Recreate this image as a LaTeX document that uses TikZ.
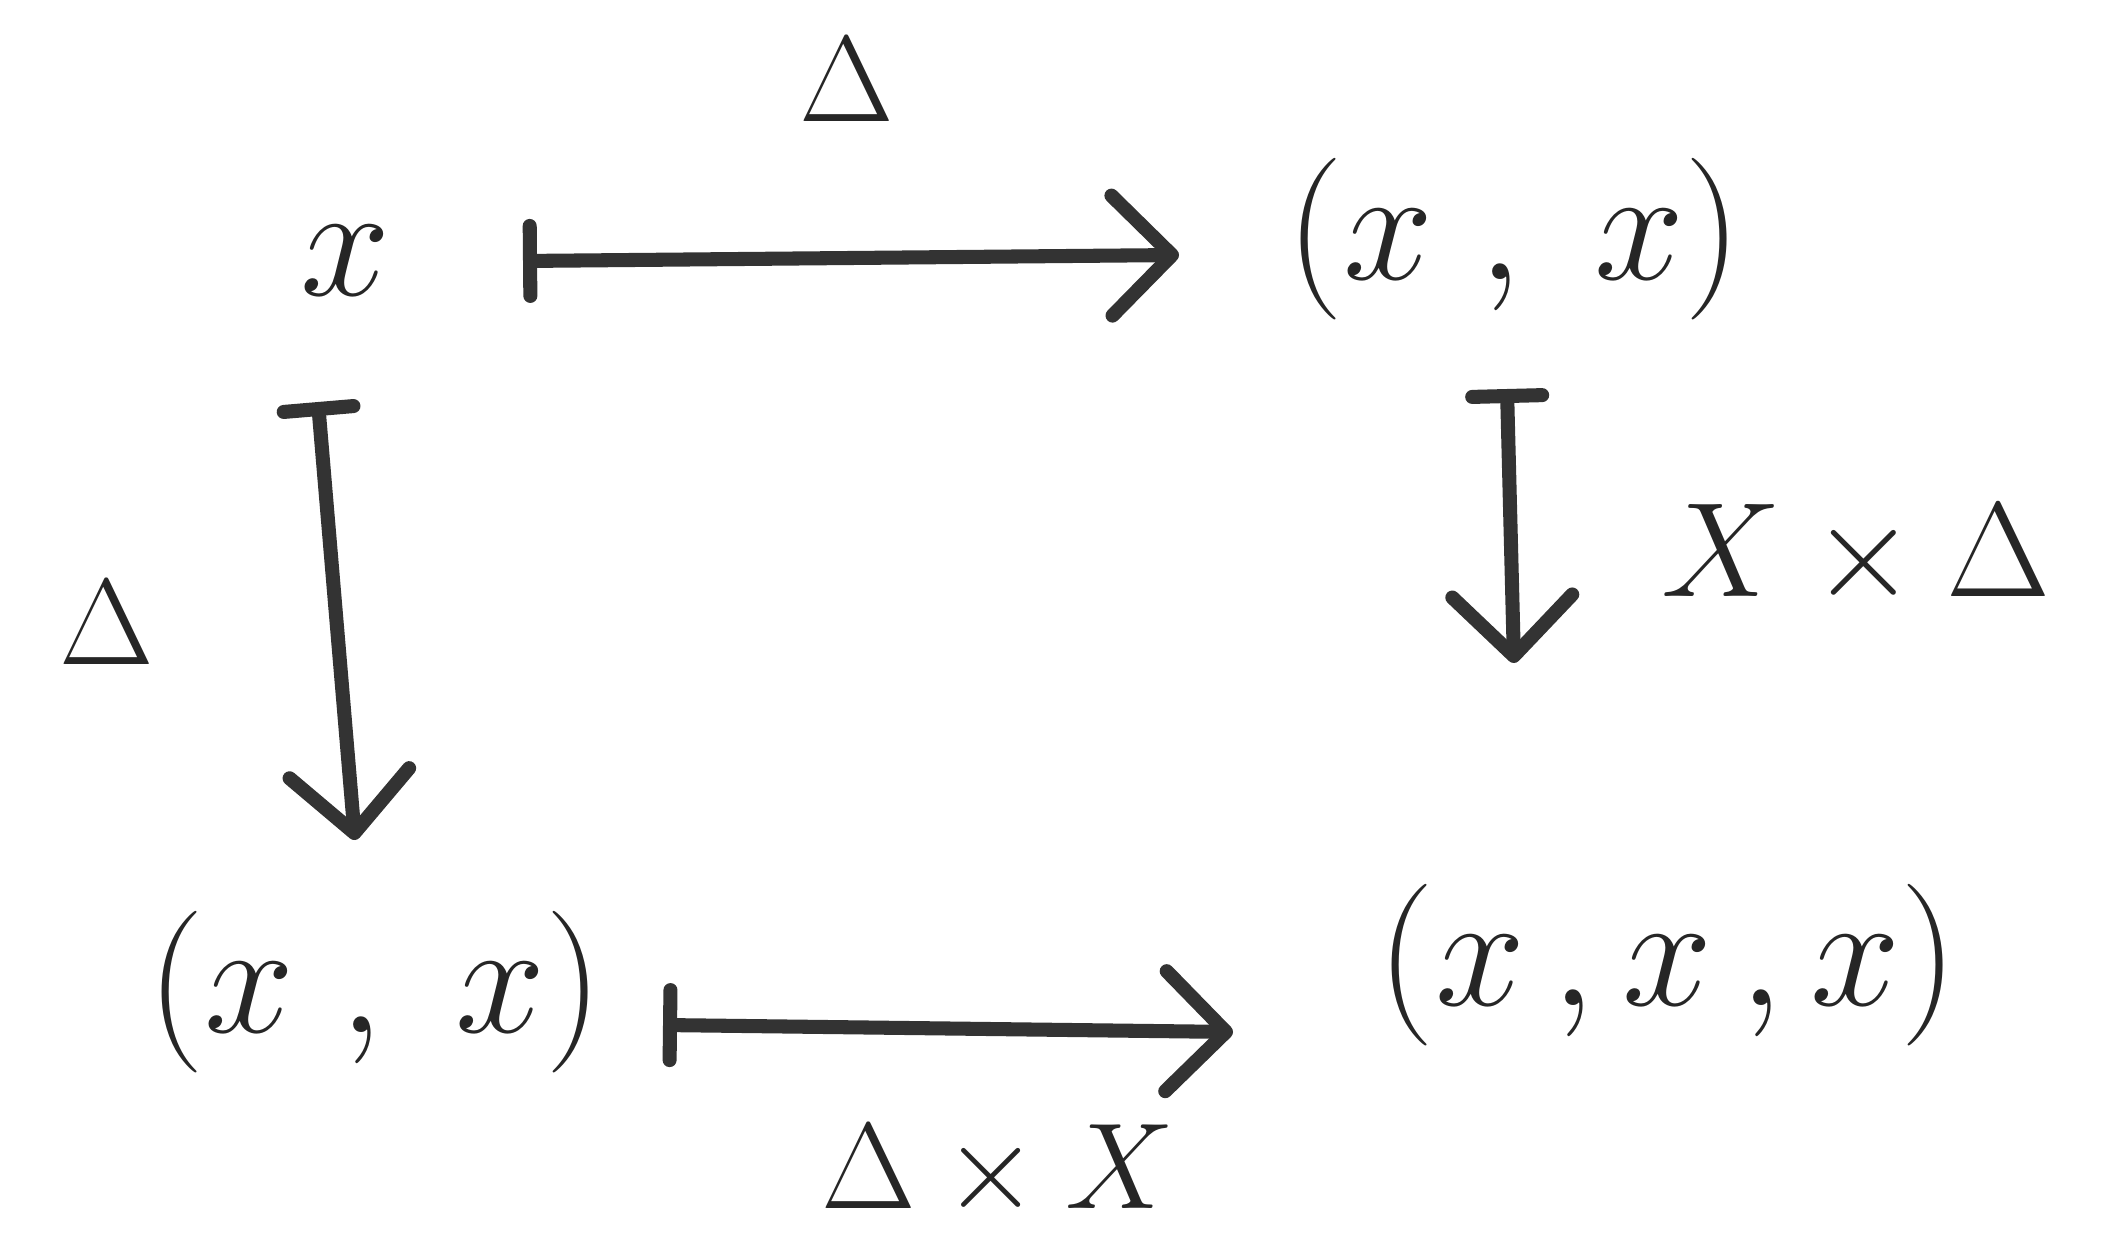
\documentclass[tikz,border=0pt]{standalone}
\usepackage{amsmath,amssymb}
\usepackage{tikz}
\usetikzlibrary{arrows.meta, positioning}

\begin{document}
\begin{tikzpicture}[
    obj/.style={font=\Huge, scale=1.85, inner sep=2pt, text=black!85},
    lbl/.style={font=\Huge, scale=1.4, inner sep=2pt, text=black!85},
    mapsto/.style={{Bar[width=7mm, round]}-{Straight Barb[length=6mm, width=12mm, round]}, line width=4pt, line cap=round, draw=black!80}
]
    \useasboundingbox (0,0) rectangle (21.01,12.49);

    % Objects
    \node[obj] (x) at (3.46, 9.88) {$x$};
    \node[obj] (xxtop) at (15.14, 10.10) {$(x\;,\;x)$};
    \node[obj] (xxbot) at (3.75, 2.57) {$(x\;,\;x)$};
    \node[obj] (xxx) at (16.68, 2.84) {$(x\,,x\,,x)$};

    % Labels
    \node[lbl] (dtop) at (8.47, 11.69) {$\Delta$};
    \node[lbl] (dleft) at (1.07, 6.26) {$\Delta$};
    \node[lbl, scale=1.1] (xd) at (18.56, 6.93) {$X\times\Delta$};
    \node[lbl] (dx) at (9.98, 0.77) {$\Delta\times X$};

    % Maps
    \draw[mapsto] ([xshift=1.77cm]x.center) -- ([xshift=-3.35cm, yshift=-0.16cm]xxtop.center);
    \draw[mapsto] ([xshift=-0.28cm, yshift=-1.41cm]x.center) -- ([xshift=-0.2cm, yshift=1.52cm]xxbot.center);
    \draw[mapsto] ([xshift=-0.07cm, yshift=-1.5cm]xxtop.center) -- ([xshift=-1.54cm, yshift=3.02cm]xxx.center);
    \draw[mapsto] ([xshift=2.88cm, yshift=-0.33cm]xxbot.center) -- ([xshift=-4.35cm, yshift=-0.67cm]xxx.center);
\end{tikzpicture}
\end{document}
